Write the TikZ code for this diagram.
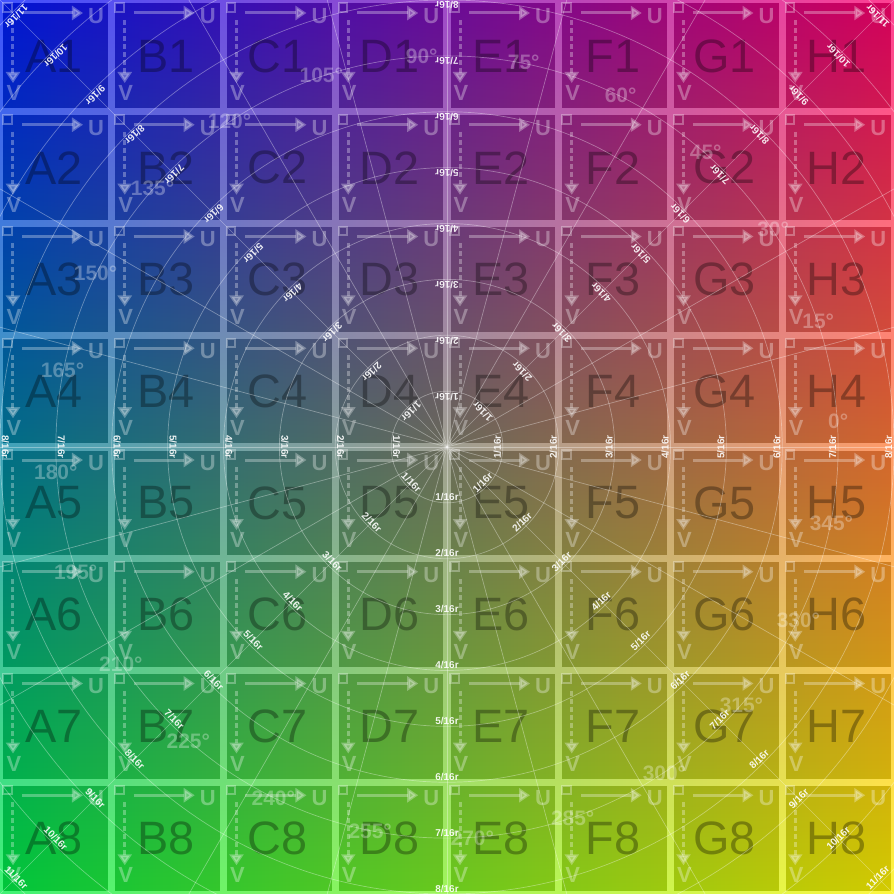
\documentclass[tikz,border=0pt]{standalone}
\usepackage{fontspec}
\setmainfont{Liberation Sans}
\usetikzlibrary{arrows.meta, shadings}

\definecolor{cornerUL}{RGB}{0,25,255}
\definecolor{cornerUR}{RGB}{255,0,110}
\definecolor{cornerLL}{RGB}{0,240,70}
\definecolor{cornerLR}{RGB}{255,245,0}

\tikzset{
    gridstrip/.style={draw=white, draw opacity=0.25, line width=7bp},
    cellshade/.style={fill=black, fill opacity=0.17},
    uvline/.style={draw=white, opacity=0.3, line width=3bp},
    uvtip/.style={-{Triangle[length=11bp, width=14bp]}},
    uvtag/.style={text=white, text opacity=0.32, inner sep=0pt, font=\bfseries\fontsize{22}{22}\selectfont},
    celltag/.style={text=black, text opacity=0.32, inner sep=0pt, font=\fontsize{47}{47}\selectfont},
    ringline/.style={draw=white, draw opacity=0.35, line width=0.7bp},
    radtag/.style={text=white, text opacity=0.9, inner sep=0pt, font=\bfseries\fontsize{10}{10}\selectfont},
    angtag/.style={text=white, text opacity=0.3, inner sep=0pt, font=\bfseries\fontsize{21}{21}\selectfont}
}

\begin{document}
\begin{tikzpicture}[x=1bp, y=1bp]
    \useasboundingbox (-447,-447) rectangle (447,447);
    \clip (-447,-447) rectangle (447,447);
    %   Colour ramp under the whole sheet
    \shade[upper left=cornerUL, upper right=cornerUR, lower left=cornerLL, lower right=cornerLR] (-447,-447) rectangle (447,447);
    %   Light strips between the cells
    \draw[gridstrip] \foreach \k in {0,...,8} {(-447+\k*111.75,-447) -- ++(0,894) (-447,-447+\k*111.75) -- ++(894,0)};
    %   One cell: darker square, corner square, U and V arrows, big tag
    \foreach \col/\letter in {0/A,1/B,2/C,3/D,4/E,5/F,6/G,7/H}
        \foreach \row in {1,...,8} {
            \pgfmathsetmacro{\cx}{-447+\col*111.75}
            \pgfmathsetmacro{\cy}{447-(\row-1)*111.75}
            \fill[cellshade] (\cx+3.5,\cy-3.5) rectangle (\cx+108.25,\cy-108.25);
            \draw[uvline, line width=2bp] (\cx+3.5,\cy-3.5) rectangle (\cx+12,\cy-12);
            \draw[uvline, uvtip] (\cx+22,\cy-13) -- (\cx+83,\cy-13);
            \draw[uvline, uvtip, dash pattern=on 5bp off 3bp] (\cx+13,\cy-20) -- (\cx+13,\cy-83);
            \node[uvtag] (U\letter\row) at (\cx+96,\cy-16) {U};
            \node[uvtag] (V\letter\row) at (\cx+14,\cy-93) {V};
            \node[celltag] (\letter\row) at (\cx+54,\cy-56) {\letter\row};
        }
    %   Rings and spokes round the middle
    \foreach \k in {1,...,11}
        \draw[ringline] (0,0) circle (\k*55.875);
    \foreach \a in {0,15,...,345}
        \draw[ringline] (0,0) -- (\a:700);
    %   Ring tags along axes and diagonals
    \foreach \dir/\last in {0/8,90/8,180/8,270/8,45/11,135/11,225/11,315/11}
        \foreach \k in {1,...,\last}
            \node[radtag, rotate=\dir+90] (rad\dir-\k) at (\dir:\k*55.875-5.5) {\k/16r};
    %   Angle tags
    \foreach \a in {0,15,...,345}
        \node[angtag] (ang\a) at (\a+3.7:392) {\a°};
\end{tikzpicture}
\end{document}
